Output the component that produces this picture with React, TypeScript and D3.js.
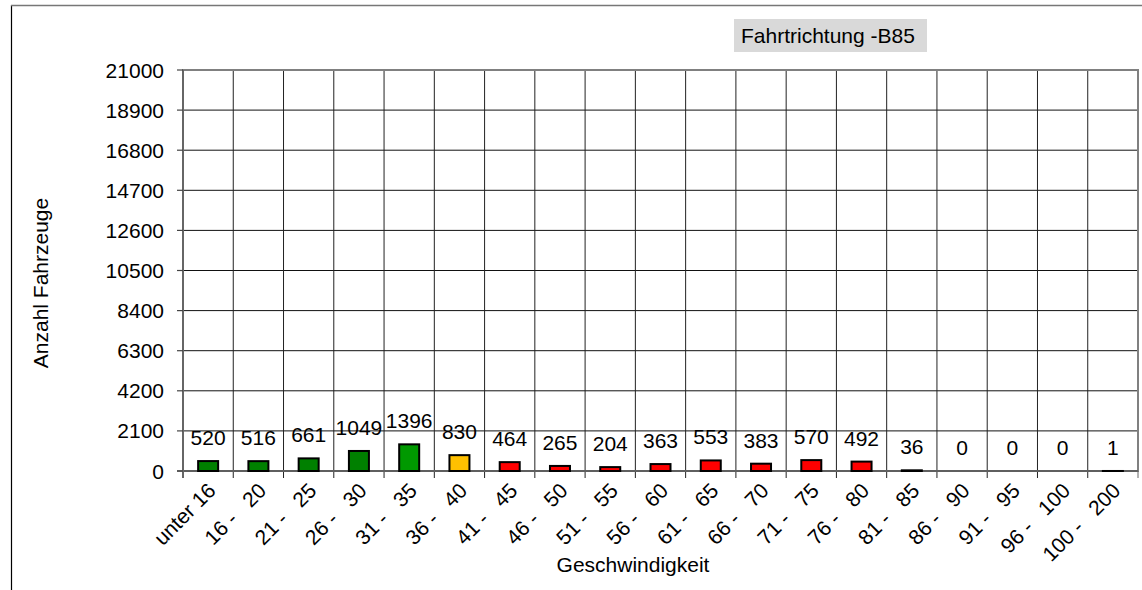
import React from "react";
import * as d3 from "d3";

const categories = ["unter 16", "16 - 20", "21 - 25", "26 - 30", "31 - 35", "36 - 40", "41 - 45", "46 - 50", "51 - 55", "56 - 60", "61 - 65", "66 - 70", "71 - 75", "76 - 80", "81 - 85", "86 - 90", "91 - 95", "96 - 100", "100 - 200"];
const values = [520, 516, 661, 1049, 1396, 830, 464, 265, 204, 363, 553, 383, 570, 492, 36, 0, 0, 0, 1];
const barColors = ["#008000", "#008000", "#008000", "#008000", "#009900", "#FFC000", "#FF0000", "#FF0000", "#FF0000", "#FF0000", "#FF0000", "#FF0000", "#FF0000", "#FF0000", "#FF0000", "#FF0000", "#FF0000", "#FF0000", "#FF0000"];
const yTicks = [0, 2100, 4200, 6300, 8400, 10500, 12600, 14700, 16800, 18900, 21000];
const legendText = "Fahrtrichtung -B85";
const xTitle = "Geschwindigkeit";
const yTitle = "Anzahl Fahrzeuge";

const W = 1142, H = 590;
const L = 183, R = 1138, T = 70, B = 471;
const FONT = "Arial, 'Liberation Sans', sans-serif";
const FS = 21;

export default function App() {
  const x = d3.scaleBand<string>().domain(categories).range([L, R]).padding(0);
  const y = d3.scaleLinear().domain([0, 21000]).range([B, T]);
  const bw = x.bandwidth();
  const barW = 20;

  return (
    <svg width={W} height={H} style={{ position: "absolute", left: 0, top: 0, background: "#fff" }} fontFamily={FONT}>
      {/* outer frame */}
      <line x1={11.5} y1={5} x2={11.5} y2={H + 5} stroke="#000" strokeWidth={1.2} />
      <line x1={11} y1={5.5} x2={W + 5} y2={5.5} stroke="#777" strokeWidth={1.5} />

      {/* legend box */}
      <rect x={734} y={19} width={193} height={33} fill="#D9D9D9" />
      <text x={741} y={43} fontSize={FS} fill="#000">{legendText}</text>

      {/* horizontal grid */}
      {yTicks.map((t) => (
        <line key={"h" + t} x1={L} x2={R} y1={y(t)} y2={y(t)} stroke="#111" strokeWidth={1} />
      ))}
      {/* vertical grid */}
      {categories.map((c, i) => (
        i > 0 ? <line key={"v" + c} x1={x(c)!} x2={x(c)!} y1={T} y2={B + 7} stroke="#222" strokeWidth={1} /> : null
      ))}
      {/* plot border */}
      <rect x={L} y={T} width={R - L} height={B - T} fill="none" stroke="#808080" strokeWidth={2} />
      <line x1={L - 6} x2={R} y1={B} y2={B} stroke="#555" strokeWidth={1.5} />
      <line x1={L} x2={L} y1={T} y2={B + 7} stroke="#666" strokeWidth={2} />
      <line x1={R} x2={R} y1={B} y2={B + 7} stroke="#666" strokeWidth={1} />

      {/* y ticks */}
      {yTicks.map((t) => (
        <g key={"yt" + t}>
          <line x1={L - 6} x2={L} y1={y(t)} y2={y(t)} stroke="#444" strokeWidth={1.2} />
          <text x={164} y={y(t)} dy="0.36em" textAnchor="end" fontSize={FS} fill="#000">{t}</text>
        </g>
      ))}

      {/* bars */}
      {values.map((v, i) => {
        const cx = x(categories[i])! + bw / 2;
        return v > 0 ? (
          <rect key={"b" + i} x={cx - barW / 2} y={y(v)} width={barW} height={B - y(v)} fill={barColors[i]} stroke="#000" strokeWidth={2} />
        ) : null;
      })}

      {/* value labels */}
      {values.map((v, i) => {
        const cx = x(categories[i])! + bw / 2;
        return (
          <text key={"l" + i} x={cx} y={y(v) - 16} textAnchor="middle" fontSize={FS} fill="#000">{v}</text>
        );
      })}

      {/* x labels */}
      {categories.map((c, i) => {
        const cx = x(c)! + bw / 2;
        const parts = c.split(" - ");
        return (
          <text key={"x" + i} transform={`translate(${cx + 9},${492}) rotate(-45)`} textAnchor="end" fontSize={FS} fill="#000">
            {parts.length === 2 ? (
              <>
                <tspan>{parts[0] + " -"}</tspan>
                <tspan dx={17}>{parts[1]}</tspan>
              </>
            ) : (
              c
            )}
          </text>
        );
      })}

      {/* axis titles */}
      <text x={633} y={572} textAnchor="middle" fontSize={FS} fill="#000">{xTitle}</text>
      <text transform="translate(48,283) rotate(-90)" textAnchor="middle" fontSize={FS} fill="#000">{yTitle}</text>
    </svg>
  );
}
